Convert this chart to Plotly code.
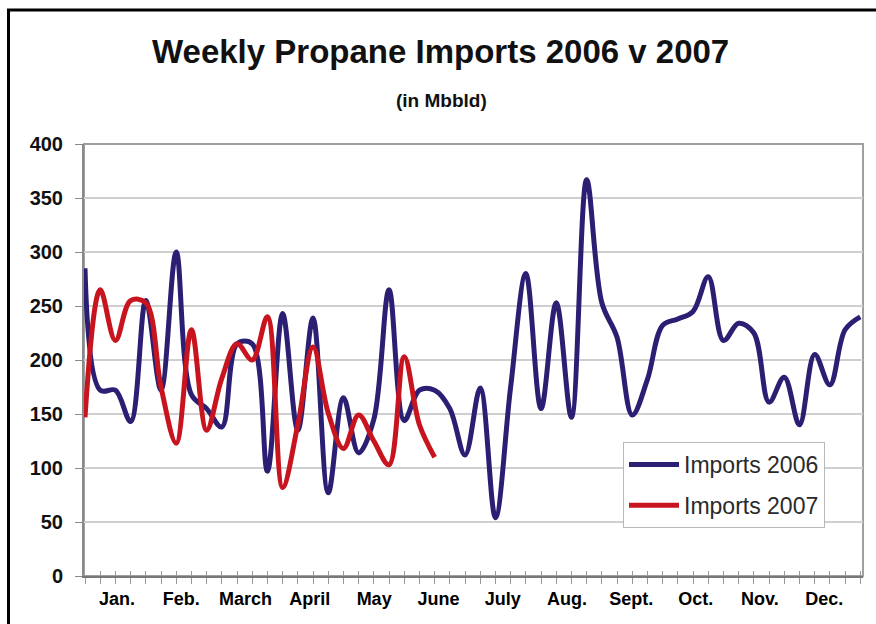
import plotly.graph_objects as go

# ---- data ----
weeks = list(range(52))
imports_2006 = [285, 172, 172, 143, 255, 172, 300, 168, 155, 138,
                215, 215, 97, 243, 135, 239, 77, 165, 114, 145,
                265, 144, 172, 172, 155, 112, 174, 54, 175, 280,
                155, 253, 147, 367, 253, 221, 149, 182, 232, 238,
                245, 277, 218, 234, 225, 161, 184, 140, 205, 177,
                228, 240]
imports_2007 = [147, 265, 218, 255, 253, 175, 123, 228, 135, 183,
                215, 200, 240, 82, 140, 212, 151, 118, 149, 125,
                103, 203, 140, 110]
weeks_2007 = weeks[:len(imports_2007)]
month_labels = ["Jan.", "Feb.", "March", "April", "May", "June",
                "July", "Aug.", "Sept.", "Oct.", "Nov.", "Dec."]
y_ticks = [0, 50, 100, 150, 200, 250, 300, 350, 400]

# ---- layout geometry ----
W, H = 876, 624
ML, MR, MT, MB = 84, 13, 144, 48
PW, PH = W - ML - MR, H - MT - MB


def px_x(X):
    return (X - ML) / PW


def px_y(Y):
    return (H - MB - Y) / PH


month_pos = [2.1 + 4.23 * i for i in range(len(month_labels))]

FONT = "Liberation Sans, Arial, sans-serif"
BLUE = "#2b1f73"
RED = "#c8141e"

fig = go.Figure()
fig.add_trace(go.Scatter(
    x=weeks, y=imports_2006, name="Imports 2006", mode="lines",
    legendgroup="a",
    line=dict(color=BLUE, width=5, shape="spline", smoothing=1.0),
))
fig.add_trace(go.Scatter(
    x=weeks_2007, y=imports_2007, name="Imports 2007", mode="lines",
    legendgroup="b",
    line=dict(color=RED, width=5, shape="spline", smoothing=1.0),
))
# invisible trace carrying the second (tick-only) x axis
fig.add_trace(go.Scatter(x=[weeks[0]], y=[0], xaxis="x2", mode="markers",
                         marker=dict(opacity=0), showlegend=False,
                         hoverinfo="skip"))

xr = [-0.066, 51.18]
fig.update_layout(
    width=W, height=H,
    margin=dict(l=ML, r=MR, t=MT, b=MB, autoexpand=False),
    paper_bgcolor="white", plot_bgcolor="white",
    font=dict(family=FONT, color="#111"),
    showlegend=True,
    legend=dict(
        x=px_x(623), y=px_y(442), xanchor="left", yanchor="top",
        bgcolor="white", bordercolor="#b8b8b8", borderwidth=1,
        font=dict(family=FONT, size=23, color="#2a2a2a"),
        itemwidth=50, traceorder="grouped", tracegroupgap=8,
    ),
    xaxis=dict(
        range=xr, tickmode="array", tickvals=month_pos, ticktext=month_labels,
        ticks="", ticklabelstandoff=5,
        tickfont=dict(family=FONT, size=18, color="#000", weight="bold"),
        showgrid=False, zeroline=False,
        showline=True, linecolor="#777", linewidth=2,
        minor=dict(tickmode="array", tickvals=weeks, ticks="outside",
                   ticklen=6, tickwidth=1, tickcolor="#999"),
    ),
    xaxis2=dict(
        range=xr, overlaying="x", anchor="y", side="bottom",
        tickmode="array", tickvals=weeks, ticks="inside", ticklen=5,
        tickwidth=1, tickcolor="#999", showticklabels=False,
        showgrid=False, zeroline=False, showline=False,
    ),
    yaxis=dict(
        range=[0, 400], tickmode="array", tickvals=y_ticks,
        ticks="outside", ticklen=7, tickcolor="#888", tickwidth=1,
        ticklabelstandoff=8,
        tickfont=dict(family=FONT, size=20, color="#111", weight="bold"),
        showgrid=True, gridcolor="#cfcfcf", gridwidth=2,
        zeroline=False, showline=True, linecolor="#8a8a8a", linewidth=2,
    ),
    shapes=[
        # plot frame (top/right)
        dict(type="rect", xref="paper", yref="paper", x0=0, x1=1, y0=0, y1=1,
             line=dict(color="#a0a0a0", width=2), layer="below"),
        # outer black frame: left and top edges
        dict(type="line", xref="paper", yref="paper",
             x0=px_x(8.5), x1=px_x(8.5), y0=px_y(9), y1=px_y(H + 5),
             line=dict(color="black", width=3)),
        dict(type="line", xref="paper", yref="paper",
             x0=px_x(7), x1=px_x(W + 5), y0=px_y(10), y1=px_y(10),
             line=dict(color="black", width=3)),
    ],
    annotations=[
        dict(text="Weekly Propane Imports 2006 v 2007", xref="paper", yref="paper",
             x=px_x(440), y=px_y(52), xanchor="center", yanchor="middle",
             showarrow=False,
             font=dict(family=FONT, size=33, color="#111", weight="bold")),
        dict(text="(in Mbbld)", xref="paper", yref="paper",
             x=px_x(441), y=px_y(100), xanchor="center", yanchor="middle",
             showarrow=False,
             font=dict(family=FONT, size=19, color="#111", weight="bold")),
    ],
)

fig.write_html("out.html")
